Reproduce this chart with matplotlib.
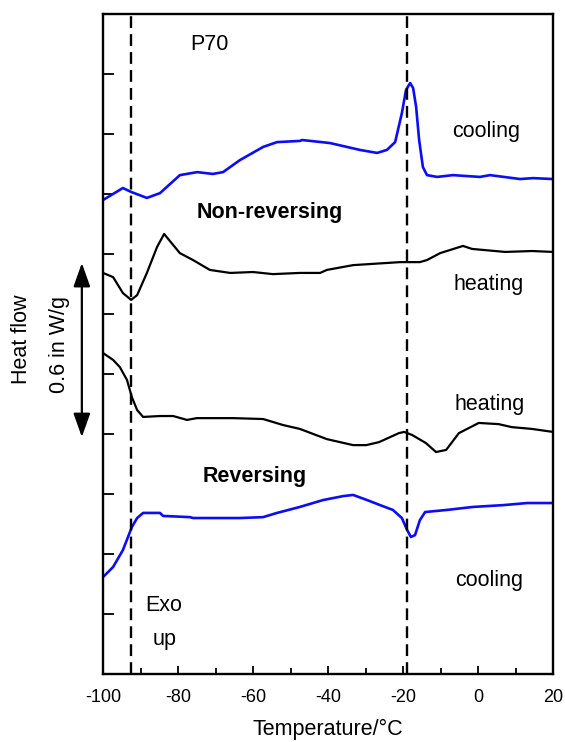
import matplotlib
matplotlib.use("Agg")
import matplotlib.pyplot as plt
from matplotlib.ticker import MultipleLocator
import matplotlib.transforms as mtransforms

plt.rcParams['font.family'] = ['Liberation Sans', 'DejaVu Sans']
plt.rcParams['axes.unicode_minus'] = False

# Non-reversing heat flow, cooling (W/g, offset)
nr_cool_T = [-100, -94.7, -92.5, -88.3, -84.8, -79.5, -74.9, -70.7, -68.0, -63.5, -57.3,
             -53.6, -47.5, -46.9, -39.5, -31.5, -26.9, -24.3, -22.1, -20.3, -19.2, -18.1,
             -17.3, -16.5, -15.7, -14.7, -13.6, -10.9, -6.7, 0.5, 3.2, 11.2, 14.7, 20]
nr_cool_Q = [1.580, 1.620, 1.607, 1.587, 1.603, 1.663, 1.673, 1.667, 1.673, 1.713, 1.757,
             1.773, 1.777, 1.780, 1.770, 1.747, 1.737, 1.747, 1.773, 1.870, 1.947, 1.970,
             1.953, 1.890, 1.780, 1.690, 1.663, 1.657, 1.663, 1.657, 1.663, 1.650, 1.653, 1.650]

# Non-reversing heat flow, heating
nr_heat_T = [-100, -97.3, -94.7, -92.5, -90.9, -88.3, -85.6, -83.7, -82.4, -79.5, -76.0,
             -71.5, -66.1, -60.0, -54.7, -47.5, -42.1, -40.3, -33.3, -20.8, -15.5, -13.6,
             -10.1, -4.0, -1.6, 7.2, 14.4, 20]
nr_heat_Q = [1.337, 1.323, 1.270, 1.247, 1.263, 1.337, 1.423, 1.467, 1.447, 1.403, 1.380,
             1.347, 1.337, 1.340, 1.333, 1.337, 1.337, 1.347, 1.363, 1.373, 1.373, 1.380,
             1.403, 1.427, 1.417, 1.407, 1.410, 1.407]

# Reversing heat flow, heating
rev_heat_T = [-100, -97.3, -95.5, -93.6, -92.3, -90.9, -89.3, -84.8, -81.3, -77.6, -75.0,
              -65.3, -57.3, -52.0, -47.5, -40.3, -33.3, -29.8, -26.4, -21.1, -19.7, -17.6,
              -13.9, -11.2, -8.5, -5.1, 0.2, 5.5, 9.0, 14.4, 20]
rev_heat_Q = [1.070, 1.047, 1.023, 0.980, 0.923, 0.880, 0.857, 0.860, 0.860, 0.847, 0.853,
              0.853, 0.850, 0.830, 0.817, 0.783, 0.763, 0.763, 0.773, 0.803, 0.807, 0.797,
              0.770, 0.740, 0.747, 0.803, 0.837, 0.833, 0.823, 0.817, 0.807]

# Reversing heat flow, cooling
rev_cool_T = [-100, -97.3, -94.7, -92.3, -90.9, -89.3, -84.8, -84.0, -76.8, -76.0, -63.5,
              -57.3, -53.6, -47.5, -41.3, -36.0, -33.3, -29.6, -26.1, -22.7, -20.3, -18.9,
              -17.9, -16.8, -15.5, -14.1, -8.3, -1.3, 6.7, 13.1, 20]
rev_cool_Q = [0.323, 0.357, 0.413, 0.490, 0.520, 0.537, 0.537, 0.527, 0.523, 0.520, 0.520,
              0.523, 0.537, 0.557, 0.580, 0.593, 0.597, 0.580, 0.563, 0.547, 0.520, 0.480,
              0.457, 0.463, 0.513, 0.540, 0.547, 0.557, 0.563, 0.570, 0.570]

transitions = [-92.5, -19.0]

fig = plt.figure(figsize=(5.65, 7.42), dpi=100)
ax = fig.add_axes([0.1823, 0.0916, 0.7965, 0.8895])

blue = '#0c0cf5'
ax.plot(nr_cool_T, nr_cool_Q, color=blue, lw=1.9)
ax.plot(nr_heat_T, nr_heat_Q, color='black', lw=1.6)
ax.plot(rev_heat_T, rev_heat_Q, color='black', lw=1.6)
ax.plot(rev_cool_T, rev_cool_Q, color=blue, lw=1.9)

for t in transitions:
    ax.axvline(t, color='black', lw=1.7, ls=(0, (5, 2.6)))

ax.set_xlim(-100, 20)
ax.set_ylim(0, 2.2)
ax.xaxis.set_major_locator(MultipleLocator(20))
ax.xaxis.set_minor_locator(MultipleLocator(10))
ax.yaxis.set_major_locator(MultipleLocator(0.2))
ax.tick_params(axis='x', which='major', direction='in', length=6, width=1.3,
               labelsize=13, pad=11, top=False)
ax.tick_params(axis='x', which='minor', direction='in', length=4, width=1.3, top=False)
ax.tick_params(axis='y', which='major', direction='in', length=8, width=1.3,
               labelleft=False, right=False)
for s in ax.spines.values():
    s.set_linewidth(1.7)

ax.set_xlabel('Temperature/\u00b0C', fontsize=15.5, labelpad=9)

txt = dict(fontsize=15.5, ha='center', va='center')
ax.text(-71.5, 2.097, 'P70', **txt)
ax.text(2.1, 1.810, 'cooling', **txt)
ax.text(-55.5, 1.540, 'Non-reversing', fontweight='bold', **txt)
ax.text(2.7, 1.300, 'heating', **txt)
ax.text(3.2, 0.897, 'heating', **txt)
ax.text(-59.5, 0.657, 'Reversing', fontweight='bold', **txt)
ax.text(2.9, 0.313, 'cooling', **txt)
ax.text(-83.7, 0.230, 'Exo', **txt)
ax.text(-83.7, 0.115, 'up', **txt)

# Heat-flow scale bar left of the axis
blend = mtransforms.blended_transform_factory(ax.transAxes, ax.transData)
ax.annotate('', xy=(-0.047, 0.790), xytext=(-0.047, 1.370),
            xycoords=blend, textcoords=blend, annotation_clip=False,
            arrowprops=dict(arrowstyle='<|-|>,head_length=0.9,head_width=0.32',
                            color='black', lw=1.6,
                            mutation_scale=16, shrinkA=0, shrinkB=0))
ax.text(-0.182, 1.117, 'Heat flow', transform=blend, rotation=90,
        fontsize=15.5, ha='center', va='center', clip_on=False)
ax.text(-0.096, 1.100, '0.6 in W/g', transform=blend, rotation=90,
        fontsize=15.5, ha='center', va='center', clip_on=False)

fig.savefig('out.png', dpi=100)
